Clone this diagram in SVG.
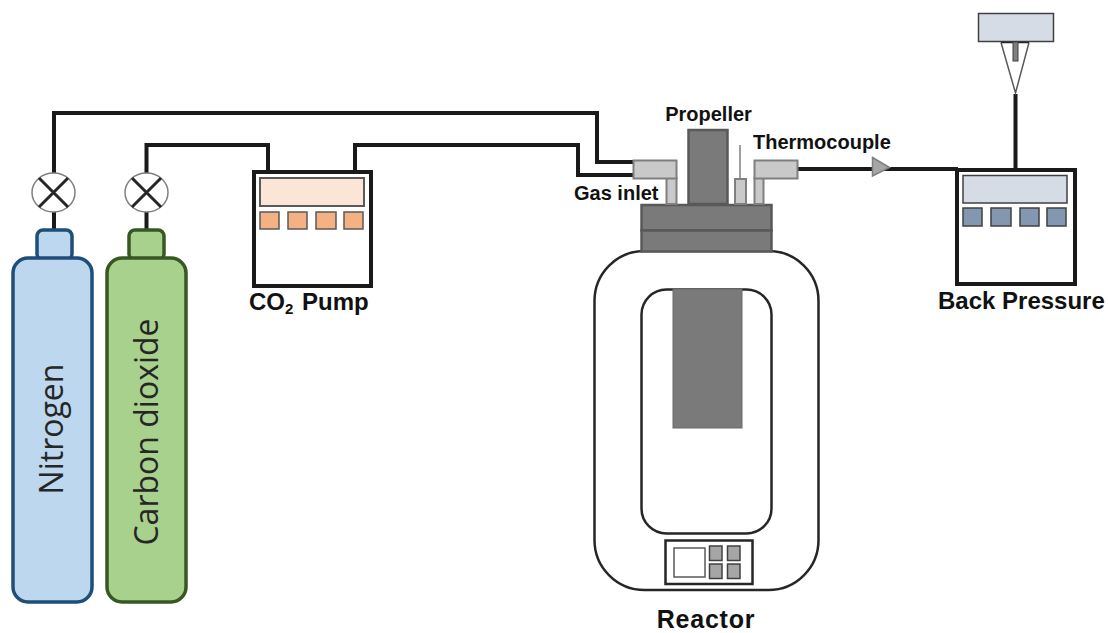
<svg xmlns="http://www.w3.org/2000/svg" width="1108" height="633" viewBox="0 0 1108 633">
<style>
.pipe{fill:none;stroke:#1a1a1a;stroke-width:4;stroke-linejoin:miter}
.box{fill:#fff;stroke:#1a1a1a;stroke-width:4}
.lbl{font-family:"Liberation Sans",Arial,sans-serif;font-weight:700;fill:#111}
.gas{font-family:"Open Sans",sans-serif;font-weight:400;fill:#262626;font-size:32px;text-anchor:middle}
.steel{fill:#c9c9c9;stroke:#7f7f7f;stroke-width:2}
.dark{fill:#7a7a7a;stroke:#595959;stroke-width:2.5}
.valve{fill:#fff;stroke:#7f7f7f;stroke-width:1.5}
.x{stroke:#262626;stroke-width:3;fill:none}
.op{fill:#f4b183;stroke:#595959;stroke-width:1.5}
.bl{fill:#8497b0;stroke:#404040;stroke-width:1.5}
.gr{fill:#a6a6a6;stroke:#404040;stroke-width:1.5}
</style>
<g id="connectors">
<path class="pipe" d="M54 192V113H597V162H634"/>
<path class="pipe" d="M146.500 192V145H268V172"/>
<path class="pipe" d="M355 172V145H578V175H634"/>
<path class="pipe" d="M54 212V231M146.500 212V231"/>
<path class="pipe" d="M798 169H958"/>
<path class="pipe" d="M1015.500 94V170"/>
</g>
<g id="nitrogen">
<rect x="37" y="230" width="35" height="30" rx="6" fill="#bdd7ee" stroke="#1f4e79" stroke-width="3.500"/>
<rect x="13" y="258" width="79" height="344" rx="15" fill="#bdd7ee" stroke="#1f4e79" stroke-width="3.500"/>
<text class="gas" transform="translate(63 429) rotate(-90)">Nitrogen</text>
</g>
<g id="carbon-dioxide">
<rect x="129" y="230" width="35" height="30" rx="6" fill="#a9d18e" stroke="#385723" stroke-width="3.500"/>
<rect x="107" y="258" width="79" height="344" rx="15" fill="#a9d18e" stroke="#385723" stroke-width="3.500"/>
<text class="gas" transform="translate(158 432) rotate(-90)">Carbon dioxide</text>
</g>
<g id="valve-n2">
<ellipse class="valve" cx="53.500" cy="192.500" rx="21.500" ry="19.500"/>
<path class="x" d="M39 178L68 207M68 178L39 207"/>
</g>
<g id="valve-co2">
<ellipse class="valve" cx="146.500" cy="192.500" rx="21.500" ry="19.500"/>
<path class="x" d="M132 178L161 207M161 178L132 207"/>
</g>
<g id="co2-pump">
<rect class="box" x="254" y="172" width="117" height="114"/>
<rect x="260" y="178" width="104" height="28" fill="#fbe5d6" stroke="#595959" stroke-width="2"/>
<rect class="op" x="260" y="212" width="19" height="17"/>
<rect class="op" x="288" y="212" width="19" height="17"/>
<rect class="op" x="316" y="212" width="20" height="17"/>
<rect class="op" x="344" y="212" width="19" height="17"/>
<text class="lbl" x="249" y="310" font-size="24" word-spacing="2">CO<tspan font-size="15" dy="4">2</tspan><tspan dy="-4"> Pump</tspan></text>
</g>
<g id="reactor">
<rect x="594.500" y="251" width="224" height="339" rx="50" fill="#fff" stroke="#262626" stroke-width="2.500"/>
<rect x="641.500" y="289.500" width="130" height="244" rx="25" fill="#fff" stroke="#262626" stroke-width="2.500"/>
<rect x="673" y="289" width="69" height="139" fill="#7a7a7a" stroke="#6a6a6a"/>
<rect class="dark" x="641.500" y="205" width="130" height="25.500"/>
<rect class="dark" x="641.500" y="230.500" width="130" height="21"/>
<rect x="665.500" y="540.500" width="87" height="43.500" fill="#fff" stroke="#262626" stroke-width="2.500"/>
<rect x="674" y="548" width="31" height="29" fill="#fff" stroke="#595959" stroke-width="1.500"/>
<rect class="gr" x="709.500" y="546" width="12.500" height="14.500"/>
<rect class="gr" x="727.500" y="546" width="12.500" height="14.500"/>
<rect class="gr" x="709.500" y="564" width="12.500" height="14.500"/>
<rect class="gr" x="727.500" y="564" width="12.500" height="14.500"/>
<text class="lbl" x="706" y="627.500" font-size="25" letter-spacing="0.800" text-anchor="middle">Reactor</text>
</g>
<g id="propeller">
<rect class="dark" x="688.500" y="130" width="39" height="74"/>
<text class="lbl" x="708.500" y="121" font-size="20" text-anchor="middle">Propeller</text>
</g>
<g id="gas-inlet">
<rect class="steel" x="666.500" y="178" width="10" height="26"/>
<rect class="steel" x="633.500" y="160.500" width="43" height="18"/>
<text class="lbl" x="574" y="200" font-size="20">Gas inlet</text>
</g>
<g id="thermocouple">
<path d="M740 145V179" stroke="#7f7f7f" stroke-width="1.500"/>
<rect class="steel" x="735" y="179" width="11" height="25"/>
<rect class="steel" x="754.500" y="178" width="9" height="26"/>
<rect class="steel" x="754.500" y="160.500" width="43" height="18"/>
<text class="lbl" x="753" y="149" font-size="20">Thermocouple</text>
</g>
<g id="check-valve">
<path d="M872.500 157.500L889.500 167.500L872.500 176Z" fill="#a6a6a6" stroke="#7f7f7f" stroke-width="1.500"/>
</g>
<g id="back-pressure">
<rect class="box" x="957" y="170" width="118" height="114"/>
<rect x="963" y="175.500" width="104" height="27.500" fill="#d6dce5" stroke="#404040" stroke-width="1.500"/>
<rect class="bl" x="963" y="208" width="19" height="18"/>
<rect class="bl" x="991" y="208" width="20" height="18"/>
<rect class="bl" x="1020" y="208" width="19" height="18"/>
<rect class="bl" x="1047" y="208" width="19" height="18"/>
<text class="lbl" x="938" y="309" font-size="24">Back Pressure</text>
</g>
<g id="collector">
<path d="M1001 42.500L1015.500 93L1029 42.500" fill="#fff" stroke="#595959" stroke-width="1.500"/>
<rect x="978.500" y="13.500" width="75" height="28" fill="#d6dce5" stroke="#404040" stroke-width="1.500"/>
<path d="M1001 42.500H1029" stroke="#262626" stroke-width="1.500"/>
<rect x="1013" y="42" width="5" height="19" fill="#7f7f7f" stroke="#404040"/>
</g>
</svg>
